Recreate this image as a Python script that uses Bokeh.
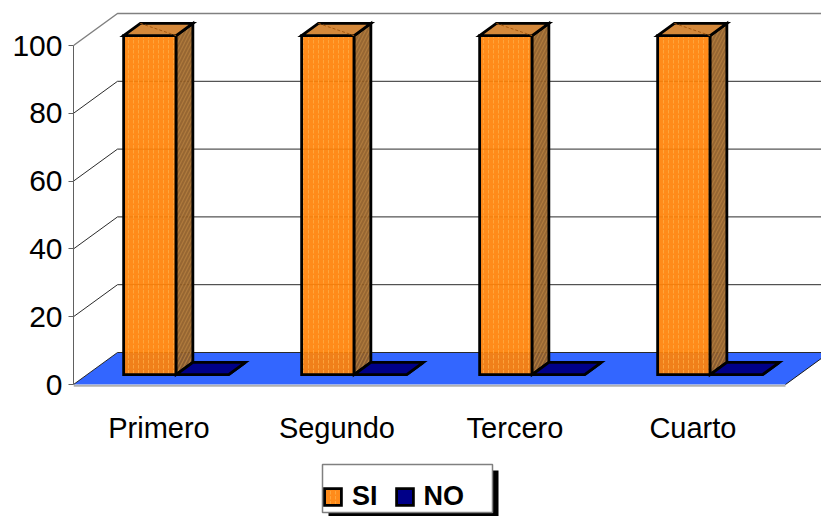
from bokeh.plotting import figure
from bokeh.models import Range1d, FixedTicker, Legend, LegendItem
from bokeh.core.properties import value
from bokeh.embed import file_html
from bokeh.resources import INLINE

# ---- data -------------------------------------------------------------
categories = ["Primero", "Segundo", "Tercero", "Cuarto"]
si_values = [100, 100, 100, 100]
no_values = [0, 0, 0, 0]
y_ticks = [0, 20, 40, 60, 80, 100]
series_names = ["SI", "NO"]

# ---- layout constants (pixels) ---------------------------------------
W, H = 821, 516
LEFT = 73            # front-left corner of the floor / value axis
FLOOR_Y = 384        # pixel row of value 0 on the front plane
PX_PER_CAT = 178     # width of one category slot
PX_PER_UNIT = 3.39   # pixels per value unit
DEPTH_PX = (44, 32)  # oblique offset of the back wall

DX = DEPTH_PX[0] / PX_PER_CAT
DY = DEPTH_PX[1] / PX_PER_UNIT
BAR_W = 52.5 / PX_PER_CAT
F0, F1 = 0.31, 0.69  # bar depth range as a fraction of the floor depth
N = len(categories)
FONT = "Liberation Sans"


def px_x(px):
    return (px - LEFT) / PX_PER_CAT


def px_y(py):
    return (FLOOR_Y - py) / PX_PER_UNIT


p = figure(
    width=W, height=H,
    x_range=Range1d(0, px_x(W)), y_range=Range1d(px_y(H), px_y(0)),
    output_backend="svg", toolbar_location=None,
    x_axis_location=None, y_axis_location="left",
    min_border_left=LEFT, min_border_right=0, min_border_top=0, min_border_bottom=0,
    outline_line_color=None, background_fill_color="white", border_fill_color="white",
)
p.grid.visible = False

# ---- value axis on the front-left edge --------------------------------
ax = p.yaxis[0]
ax.bounds = (0, max(y_ticks))
ax.ticker = FixedTicker(ticks=y_ticks)
ax.minor_tick_line_color = None
ax.major_tick_in = 0
ax.major_tick_out = 5
ax.axis_line_color = "#606060"
ax.major_tick_line_color = "#606060"
ax.major_label_standoff = 6
ax.major_label_text_font = FONT
ax.major_label_text_font_size = "30px"
ax.major_label_text_color = "black"

# ---- floor ---------------------------------------------------------------
p.patch([0, N, N + DX, DX], [0, 0, DY, DY], fill_color="#3366FF", line_color=None)
p.line([0, N], [-0.4, -0.4], line_color="#B0B0B0", line_width=2)
p.line([N, N + DX], [0, DY], line_color="#1a1a1a", line_width=1)

# ---- side and back wall gridlines ------------------------------------
grid_xs, grid_ys = [], []
for t in y_ticks[:-1]:
    grid_xs.append([0, DX, N + DX])
    grid_ys.append([t, t + DY, t + DY])
p.multi_line(grid_xs, grid_ys, line_color="#2a2a2a", line_width=1)
top = y_ticks[-1]
p.line([0, DX, N + DX], [top, top + DY, top + DY], line_color="#808080", line_width=1.5)


# ---- 3D bars -------------------------------------------------------------
def bar_faces(values, k):
    front_x, front_y, right_x, right_y, top_x, top_y = [], [], [], [], [], []
    ddx, ddy = (F1 - F0) * DX, (F1 - F0) * DY
    for i, v in enumerate(values):
        x0 = i + 0.5 + (k - 1) * BAR_W + F0 * DX
        x1 = x0 + BAR_W
        y0 = F0 * DY
        y1 = v + F0 * DY
        front_x.append([x0, x1, x1, x0])
        front_y.append([y0, y0, y1, y1])
        right_x.append([x1, x1 + ddx, x1 + ddx, x1])
        right_y.append([y0, y0 + ddy, y1 + ddy, y1])
        top_x.append([x0, x1, x1 + ddx, x0 + ddx])
        top_y.append([y1, y1, y1 + ddy, y1 + ddy])
    return front_x, front_y, right_x, right_y, top_x, top_y


outline = dict(line_color="black", line_width=2.8, line_join="miter")

fx, fy, rx, ry, tx, ty = bar_faces(si_values, 0)
si_front = p.patches(fx, fy, fill_color="#FF8209", fill_alpha=0.93,
                     hatch_pattern="vertical_dash", hatch_color="#FFAE45",
                     hatch_scale=5, hatch_weight=1, hatch_alpha=0.75, **outline)
p.patches(rx, ry, fill_color="#8E5A22", fill_alpha=0.93,
          hatch_pattern="right_diagonal_line", hatch_color="#B07A3C",
          hatch_scale=7, hatch_weight=1.2, **outline)
p.patches(tx, ty, fill_color="#D4883A", **outline)
# hidden edge across each top face
p.multi_line([[x[3], x[1]] for x in tx], [[y[3], y[1]] for y in ty],
             line_color="#A85A10", line_width=1, line_dash="3 2")

fx, fy, rx, ry, tx, ty = bar_faces(no_values, 1)
p.patches(fx, fy, fill_color="#000080", **outline)
p.patches(rx, ry, fill_color="#000060", **outline)
no_top = p.patches(tx, ty, fill_color="#000088", **outline)

# ---- category labels ---------------------------------------------------
p.text(x=[i + 0.48 for i in range(N)], y=[0] * N, text=categories, y_offset=43,
       text_font=value(FONT), text_font_size="29px", text_color="black",
       text_align="center", text_baseline="alphabetic")

# ---- legend box with drop shadow ---------------------------------------
p.quad(left=px_x(328), right=px_x(498), top=px_y(470), bottom=px_y(H + 2),
       fill_color="black", line_color=None)
p.quad(left=px_x(322), right=px_x(492), top=px_y(464), bottom=px_y(512),
       fill_color="white", line_color="#808080", line_width=1.5)
legend = Legend(
    items=[LegendItem(label=series_names[0], renderers=[si_front]),
           LegendItem(label=series_names[1], renderers=[no_top])],
    orientation="horizontal", location=(322 - LEFT, 4), margin=0,
    padding=9, spacing=16, label_standoff=9,
    glyph_width=21, glyph_height=21, label_height=21,
    label_text_font=FONT, label_text_font_size="27px", label_text_font_style="bold",
    label_text_color="black",
    border_line_color=None, background_fill_alpha=0,
)
p.add_layout(legend, "center")

open("out.html", "w").write(file_html(p, INLINE))
